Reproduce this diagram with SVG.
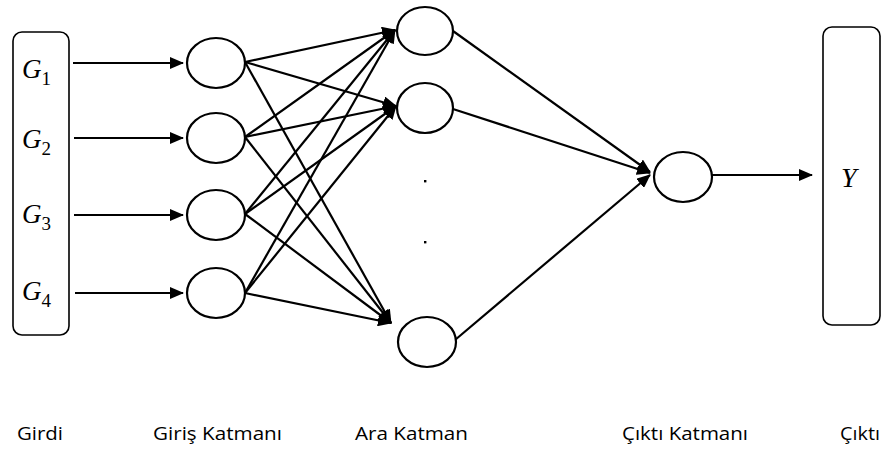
<svg xmlns="http://www.w3.org/2000/svg" width="884" height="453" viewBox="0 0 884 453">
<style>
.box{fill:none;stroke:#000;stroke-width:1.6}
.node{fill:#fff;stroke:#000;stroke-width:2.2}
.edge{stroke:#000;stroke-width:2.2;fill:none}
.var{font-family:"Liberation Serif","DejaVu Serif",serif;font-style:italic;font-size:27px;fill:#000}
.sub{font-style:normal;font-size:19px}
.lbl{font-family:"Open Sans","Liberation Sans",sans-serif;font-size:19px;fill:#000}
</style>
<defs>
<marker id="ah" markerUnits="userSpaceOnUse" markerWidth="14" markerHeight="12" viewBox="0 0 14 12" refX="13" refY="6" orient="auto">
<path d="M0,0 L14,6 L0,12 Z" fill="#000"/>
</marker>
</defs>
<rect width="884" height="453" fill="#fff"/>
<g id="connectors">
<line class="edge" x1="73" y1="63" x2="183" y2="63" marker-end="url(#ah)"/>
<line class="edge" x1="74" y1="138" x2="183" y2="138" marker-end="url(#ah)"/>
<line class="edge" x1="74" y1="215" x2="183" y2="215" marker-end="url(#ah)"/>
<line class="edge" x1="75" y1="293" x2="183" y2="293" marker-end="url(#ah)"/>
<line class="edge" x1="245" y1="62" x2="395" y2="30" marker-end="url(#ah)"/>
<line class="edge" x1="245" y1="62" x2="396" y2="106" marker-end="url(#ah)"/>
<line class="edge" x1="245" y1="62" x2="391" y2="323" marker-end="url(#ah)"/>
<line class="edge" x1="245" y1="137" x2="395" y2="30" marker-end="url(#ah)"/>
<line class="edge" x1="245" y1="137" x2="396" y2="106" marker-end="url(#ah)"/>
<line class="edge" x1="245" y1="137" x2="391" y2="323" marker-end="url(#ah)"/>
<line class="edge" x1="245" y1="214" x2="395" y2="30" marker-end="url(#ah)"/>
<line class="edge" x1="245" y1="214" x2="396" y2="106" marker-end="url(#ah)"/>
<line class="edge" x1="245" y1="214" x2="391" y2="323" marker-end="url(#ah)"/>
<line class="edge" x1="245" y1="293" x2="395" y2="30" marker-end="url(#ah)"/>
<line class="edge" x1="245" y1="293" x2="396" y2="106" marker-end="url(#ah)"/>
<line class="edge" x1="245" y1="293" x2="391" y2="323" marker-end="url(#ah)"/>
<line class="edge" x1="453" y1="31" x2="650" y2="172" marker-end="url(#ah)"/>
<line class="edge" x1="453" y1="109" x2="650" y2="173" marker-end="url(#ah)"/>
<line class="edge" x1="455" y1="340" x2="650" y2="175" marker-end="url(#ah)"/>
<line class="edge" x1="712" y1="175" x2="812" y2="175" marker-end="url(#ah)"/>
</g>
<g id="input-box">
<rect class="box" x="13" y="32" width="56" height="303" rx="9"/>
<text class="var" x="22" y="78">G<tspan class="sub" dy="7">1</tspan></text>
<text class="var" x="22" y="148">G<tspan class="sub" dy="7">2</tspan></text>
<text class="var" x="22" y="223">G<tspan class="sub" dy="7">3</tspan></text>
<text class="var" x="22" y="300">G<tspan class="sub" dy="7">4</tspan></text>
</g>
<g id="in1"><ellipse class="node" cx="216" cy="63" rx="29" ry="25"/></g>
<g id="in2"><ellipse class="node" cx="216" cy="138" rx="29" ry="25"/></g>
<g id="in3"><ellipse class="node" cx="216" cy="215" rx="29" ry="25"/></g>
<g id="in4"><ellipse class="node" cx="216" cy="293" rx="29" ry="25"/></g>
<g id="h1"><ellipse class="node" cx="425" cy="31" rx="28" ry="24"/></g>
<g id="h2"><ellipse class="node" cx="425" cy="108" rx="28" ry="25"/></g>
<g id="h3"><ellipse class="node" cx="427" cy="342" rx="29" ry="25"/></g>
<g id="dots">
<rect x="424" y="180" width="2.4" height="2.4" fill="#000"/>
<rect x="424" y="241" width="2.4" height="2.4" fill="#000"/>
</g>
<g id="out"><ellipse class="node" cx="683" cy="177" rx="29" ry="25"/></g>
<g id="output-box">
<rect class="box" x="823" y="27" width="57" height="298" rx="9"/>
<text class="var" x="841" y="187" style="font-size:28px">Y</text>
</g>
<g id="labels">
<text class="lbl" x="17" y="440" textLength="46" lengthAdjust="spacingAndGlyphs">Girdi</text>
<text class="lbl" x="153" y="440" textLength="129" lengthAdjust="spacingAndGlyphs">Giriş Katmanı</text>
<text class="lbl" x="355" y="440" textLength="113" lengthAdjust="spacingAndGlyphs">Ara Katman</text>
<text class="lbl" x="622" y="440" textLength="126" lengthAdjust="spacingAndGlyphs">Çıktı Katmanı</text>
<text class="lbl" x="840" y="440" textLength="40" lengthAdjust="spacingAndGlyphs">Çıktı</text>
</g>
</svg>
